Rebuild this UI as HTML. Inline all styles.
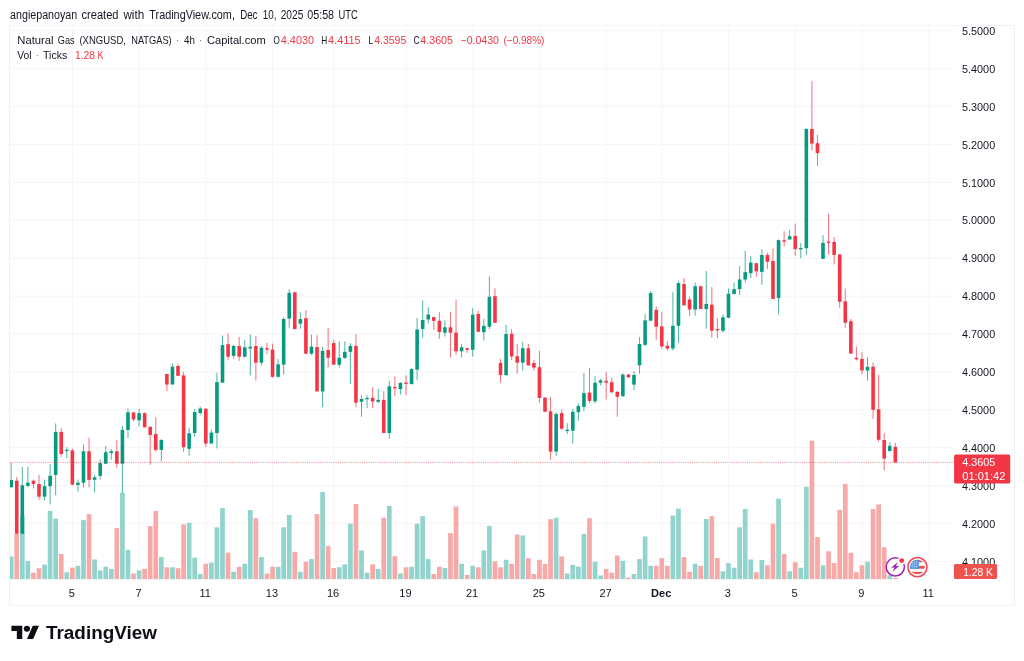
<!DOCTYPE html>
<html lang="en"><head><meta charset="utf-8"><title>Natural Gas (XNGUSD, NATGAS) 4h - TradingView</title>
<style>html,body{margin:0;padding:0;background:#fff;}body{width:1024px;height:661px;overflow:hidden;}svg{display:block;filter:blur(0.35px);}text{font-family:"Liberation Sans", Arial, sans-serif;}</style></head><body>
<svg width="1024" height="661" viewBox="0 0 1024 661">
<rect x="0" y="0" width="1024" height="661" fill="#ffffff"/>
<text x="10.1" y="18.6" font-size="12" fill="#131722" textLength="67.1" lengthAdjust="spacingAndGlyphs">angiepanoyan</text>
<text x="81.5" y="18.6" font-size="12" fill="#131722" textLength="37.0" lengthAdjust="spacingAndGlyphs">created</text>
<text x="123.4" y="18.6" font-size="12" fill="#131722" textLength="20.8" lengthAdjust="spacingAndGlyphs">with</text>
<text x="149.3" y="18.6" font-size="12" fill="#131722" textLength="85.6" lengthAdjust="spacingAndGlyphs">TradingView.com,</text>
<text x="240.2" y="18.6" font-size="12" fill="#131722" textLength="17.3" lengthAdjust="spacingAndGlyphs">Dec</text>
<text x="262.7" y="18.6" font-size="12" fill="#131722" textLength="13.7" lengthAdjust="spacingAndGlyphs">10,</text>
<text x="280.7" y="18.6" font-size="12" fill="#131722" textLength="22.6" lengthAdjust="spacingAndGlyphs">2025</text>
<text x="307.2" y="18.6" font-size="12" fill="#131722" textLength="26.9" lengthAdjust="spacingAndGlyphs">05:58</text>
<text x="338.5" y="18.6" font-size="12" fill="#131722" textLength="19.3" lengthAdjust="spacingAndGlyphs">UTC</text>
<rect x="9.5" y="25.3" width="1005" height="580" fill="#ffffff" stroke="#f1f1f4" stroke-width="1"/>
<g stroke="#f5f5f8" stroke-width="1" fill="none"><line x1="72.6" y1="26" x2="72.6" y2="579" /><line x1="139.3" y1="26" x2="139.3" y2="579" /><line x1="206.0" y1="26" x2="206.0" y2="579" /><line x1="272.7" y1="26" x2="272.7" y2="579" /><line x1="333.9" y1="26" x2="333.9" y2="579" /><line x1="406.2" y1="26" x2="406.2" y2="579" /><line x1="472.9" y1="26" x2="472.9" y2="579" /><line x1="539.6" y1="26" x2="539.6" y2="579" /><line x1="606.4" y1="26" x2="606.4" y2="579" /><line x1="662.0" y1="26" x2="662.0" y2="579" /><line x1="728.7" y1="26" x2="728.7" y2="579" /><line x1="795.4" y1="26" x2="795.4" y2="579" /><line x1="862.2" y1="26" x2="862.2" y2="579" /><line x1="928.9" y1="26" x2="928.9" y2="579" /><line x1="10" y1="30.8" x2="953.5" y2="30.8" /><line x1="10" y1="68.6" x2="953.5" y2="68.6" /><line x1="10" y1="106.6" x2="953.5" y2="106.6" /><line x1="10" y1="144.4" x2="953.5" y2="144.4" /><line x1="10" y1="182.4" x2="953.5" y2="182.4" /><line x1="10" y1="220.2" x2="953.5" y2="220.2" /><line x1="10" y1="258.1" x2="953.5" y2="258.1" /><line x1="10" y1="296.1" x2="953.5" y2="296.1" /><line x1="10" y1="333.9" x2="953.5" y2="333.9" /><line x1="10" y1="371.9" x2="953.5" y2="371.9" /><line x1="10" y1="409.8" x2="953.5" y2="409.8" /><line x1="10" y1="447.6" x2="953.5" y2="447.6" /><line x1="10" y1="485.6" x2="953.5" y2="485.6" /><line x1="10" y1="523.4" x2="953.5" y2="523.4" /><line x1="10" y1="561.4" x2="953.5" y2="561.4" /></g>
<g><rect x="10.00" y="556.4" width="3.55" height="22.8" fill="#93d3cd"/><rect x="14.41" y="533.7" width="4.70" height="45.5" fill="#f7a9a8"/><rect x="19.97" y="515.9" width="4.70" height="63.3" fill="#93d3cd"/><rect x="25.53" y="560.9" width="4.70" height="18.3" fill="#93d3cd"/><rect x="31.09" y="572.7" width="4.70" height="6.5" fill="#f7a9a8"/><rect x="36.65" y="568.2" width="4.70" height="11.0" fill="#f7a9a8"/><rect x="42.21" y="564.6" width="4.70" height="14.6" fill="#93d3cd"/><rect x="47.77" y="511.0" width="4.70" height="68.2" fill="#93d3cd"/><rect x="53.33" y="518.6" width="4.70" height="60.6" fill="#93d3cd"/><rect x="58.89" y="554.0" width="4.70" height="25.2" fill="#f7a9a8"/><rect x="64.46" y="572.2" width="4.70" height="7.0" fill="#93d3cd"/><rect x="70.02" y="567.7" width="4.70" height="11.5" fill="#f7a9a8"/><rect x="75.58" y="565.8" width="4.70" height="13.4" fill="#93d3cd"/><rect x="81.14" y="520.1" width="4.70" height="59.1" fill="#93d3cd"/><rect x="86.70" y="514.1" width="4.70" height="65.1" fill="#f7a9a8"/><rect x="92.26" y="559.5" width="4.70" height="19.7" fill="#93d3cd"/><rect x="97.82" y="570.4" width="4.70" height="8.8" fill="#93d3cd"/><rect x="103.38" y="566.7" width="4.70" height="12.5" fill="#93d3cd"/><rect x="108.94" y="568.9" width="4.70" height="10.3" fill="#93d3cd"/><rect x="114.50" y="528.1" width="4.70" height="51.1" fill="#f7a9a8"/><rect x="120.06" y="492.8" width="4.70" height="86.4" fill="#93d3cd"/><rect x="125.62" y="549.9" width="4.70" height="29.3" fill="#93d3cd"/><rect x="131.18" y="573.5" width="4.70" height="5.7" fill="#f7a9a8"/><rect x="136.74" y="570.4" width="4.70" height="8.8" fill="#93d3cd"/><rect x="142.30" y="568.9" width="4.70" height="10.3" fill="#f7a9a8"/><rect x="147.86" y="526.1" width="4.70" height="53.1" fill="#f7a9a8"/><rect x="153.42" y="511.0" width="4.70" height="68.2" fill="#f7a9a8"/><rect x="158.98" y="557.1" width="4.70" height="22.1" fill="#93d3cd"/><rect x="164.54" y="567.3" width="4.70" height="11.9" fill="#f7a9a8"/><rect x="170.10" y="567.3" width="4.70" height="11.9" fill="#93d3cd"/><rect x="175.66" y="568.2" width="4.70" height="11.0" fill="#f7a9a8"/><rect x="181.23" y="524.4" width="4.70" height="54.8" fill="#f7a9a8"/><rect x="186.79" y="522.8" width="4.70" height="56.4" fill="#93d3cd"/><rect x="192.35" y="557.7" width="4.70" height="21.5" fill="#93d3cd"/><rect x="197.91" y="574.0" width="4.70" height="5.2" fill="#93d3cd"/><rect x="203.47" y="563.7" width="4.70" height="15.5" fill="#f7a9a8"/><rect x="209.03" y="562.7" width="4.70" height="16.5" fill="#93d3cd"/><rect x="214.59" y="527.3" width="4.70" height="51.9" fill="#93d3cd"/><rect x="220.15" y="508.1" width="4.70" height="71.1" fill="#93d3cd"/><rect x="225.71" y="552.6" width="4.70" height="26.6" fill="#f7a9a8"/><rect x="231.27" y="571.8" width="4.70" height="7.4" fill="#93d3cd"/><rect x="236.83" y="566.7" width="4.70" height="12.5" fill="#f7a9a8"/><rect x="242.39" y="563.7" width="4.70" height="15.5" fill="#93d3cd"/><rect x="247.95" y="510.1" width="4.70" height="69.1" fill="#93d3cd"/><rect x="253.51" y="518.2" width="4.70" height="61.0" fill="#f7a9a8"/><rect x="259.07" y="557.1" width="4.70" height="22.1" fill="#93d3cd"/><rect x="264.63" y="573.5" width="4.70" height="5.7" fill="#f7a9a8"/><rect x="270.19" y="566.7" width="4.70" height="12.5" fill="#f7a9a8"/><rect x="275.75" y="566.7" width="4.70" height="12.5" fill="#93d3cd"/><rect x="281.31" y="527.3" width="4.70" height="51.9" fill="#93d3cd"/><rect x="286.88" y="515.0" width="4.70" height="64.2" fill="#93d3cd"/><rect x="292.44" y="551.8" width="4.70" height="27.4" fill="#f7a9a8"/><rect x="298.00" y="571.8" width="4.70" height="7.4" fill="#93d3cd"/><rect x="303.56" y="561.7" width="4.70" height="17.5" fill="#f7a9a8"/><rect x="309.12" y="559.1" width="4.70" height="20.1" fill="#93d3cd"/><rect x="314.68" y="514.1" width="4.70" height="65.1" fill="#f7a9a8"/><rect x="320.24" y="491.9" width="4.70" height="87.3" fill="#93d3cd"/><rect x="325.80" y="545.9" width="4.70" height="33.3" fill="#f7a9a8"/><rect x="331.36" y="568.0" width="4.70" height="11.2" fill="#f7a9a8"/><rect x="336.92" y="567.3" width="4.70" height="11.9" fill="#93d3cd"/><rect x="342.48" y="564.4" width="4.70" height="14.8" fill="#93d3cd"/><rect x="348.04" y="523.7" width="4.70" height="55.5" fill="#93d3cd"/><rect x="353.60" y="504.1" width="4.70" height="75.1" fill="#f7a9a8"/><rect x="359.16" y="550.4" width="4.70" height="28.8" fill="#93d3cd"/><rect x="364.72" y="572.7" width="4.70" height="6.5" fill="#93d3cd"/><rect x="370.28" y="564.4" width="4.70" height="14.8" fill="#f7a9a8"/><rect x="375.84" y="568.9" width="4.70" height="10.3" fill="#93d3cd"/><rect x="381.40" y="517.7" width="4.70" height="61.5" fill="#f7a9a8"/><rect x="386.96" y="505.9" width="4.70" height="73.3" fill="#93d3cd"/><rect x="392.52" y="556.2" width="4.70" height="23.0" fill="#f7a9a8"/><rect x="398.08" y="573.5" width="4.70" height="5.7" fill="#93d3cd"/><rect x="403.65" y="567.3" width="4.70" height="11.9" fill="#f7a9a8"/><rect x="409.21" y="566.7" width="4.70" height="12.5" fill="#93d3cd"/><rect x="414.77" y="523.7" width="4.70" height="55.5" fill="#93d3cd"/><rect x="420.33" y="516.2" width="4.70" height="63.0" fill="#93d3cd"/><rect x="425.89" y="559.1" width="4.70" height="20.1" fill="#93d3cd"/><rect x="431.45" y="574.0" width="4.70" height="5.2" fill="#f7a9a8"/><rect x="437.01" y="566.7" width="4.70" height="12.5" fill="#f7a9a8"/><rect x="442.57" y="568.0" width="4.70" height="11.2" fill="#93d3cd"/><rect x="448.13" y="533.1" width="4.70" height="46.1" fill="#f7a9a8"/><rect x="453.69" y="506.4" width="4.70" height="72.8" fill="#f7a9a8"/><rect x="459.25" y="563.7" width="4.70" height="15.5" fill="#93d3cd"/><rect x="464.81" y="574.9" width="4.70" height="4.3" fill="#f7a9a8"/><rect x="470.37" y="565.8" width="4.70" height="13.4" fill="#93d3cd"/><rect x="475.93" y="567.3" width="4.70" height="11.9" fill="#f7a9a8"/><rect x="481.49" y="550.4" width="4.70" height="28.8" fill="#93d3cd"/><rect x="487.05" y="525.9" width="4.70" height="53.3" fill="#93d3cd"/><rect x="492.61" y="561.3" width="4.70" height="17.9" fill="#f7a9a8"/><rect x="498.17" y="567.3" width="4.70" height="11.9" fill="#f7a9a8"/><rect x="503.73" y="559.8" width="4.70" height="19.4" fill="#93d3cd"/><rect x="509.29" y="563.7" width="4.70" height="15.5" fill="#f7a9a8"/><rect x="514.86" y="534.6" width="4.70" height="44.6" fill="#f7a9a8"/><rect x="520.42" y="535.5" width="4.70" height="43.7" fill="#93d3cd"/><rect x="525.98" y="558.2" width="4.70" height="21.0" fill="#f7a9a8"/><rect x="531.54" y="574.0" width="4.70" height="5.2" fill="#f7a9a8"/><rect x="537.10" y="559.8" width="4.70" height="19.4" fill="#f7a9a8"/><rect x="542.66" y="564.0" width="4.70" height="15.2" fill="#f7a9a8"/><rect x="548.22" y="519.2" width="4.70" height="60.0" fill="#f7a9a8"/><rect x="553.78" y="517.7" width="4.70" height="61.5" fill="#93d3cd"/><rect x="559.34" y="556.4" width="4.70" height="22.8" fill="#f7a9a8"/><rect x="564.90" y="573.5" width="4.70" height="5.7" fill="#93d3cd"/><rect x="570.46" y="564.9" width="4.70" height="14.3" fill="#93d3cd"/><rect x="576.02" y="566.7" width="4.70" height="12.5" fill="#93d3cd"/><rect x="581.58" y="534.0" width="4.70" height="45.2" fill="#93d3cd"/><rect x="587.14" y="518.2" width="4.70" height="61.0" fill="#f7a9a8"/><rect x="592.70" y="561.7" width="4.70" height="17.5" fill="#93d3cd"/><rect x="598.26" y="575.5" width="4.70" height="3.7" fill="#93d3cd"/><rect x="603.82" y="568.9" width="4.70" height="10.3" fill="#f7a9a8"/><rect x="609.38" y="572.7" width="4.70" height="6.5" fill="#f7a9a8"/><rect x="614.94" y="555.5" width="4.70" height="23.7" fill="#f7a9a8"/><rect x="620.50" y="560.8" width="4.70" height="18.4" fill="#93d3cd"/><rect x="626.07" y="577.6" width="4.70" height="1.6" fill="#f7a9a8"/><rect x="631.63" y="574.0" width="4.70" height="5.2" fill="#93d3cd"/><rect x="637.19" y="559.1" width="4.70" height="20.1" fill="#93d3cd"/><rect x="642.75" y="536.4" width="4.70" height="42.8" fill="#93d3cd"/><rect x="648.31" y="565.8" width="4.70" height="13.4" fill="#93d3cd"/><rect x="653.87" y="565.8" width="4.70" height="13.4" fill="#f7a9a8"/><rect x="659.43" y="558.2" width="4.70" height="21.0" fill="#f7a9a8"/><rect x="664.99" y="565.8" width="4.70" height="13.4" fill="#f7a9a8"/><rect x="670.55" y="515.5" width="4.70" height="63.7" fill="#93d3cd"/><rect x="676.11" y="508.6" width="4.70" height="70.6" fill="#93d3cd"/><rect x="681.67" y="557.1" width="4.70" height="22.1" fill="#f7a9a8"/><rect x="687.23" y="571.8" width="4.70" height="7.4" fill="#f7a9a8"/><rect x="692.79" y="563.7" width="4.70" height="15.5" fill="#93d3cd"/><rect x="698.35" y="565.8" width="4.70" height="13.4" fill="#f7a9a8"/><rect x="703.91" y="519.0" width="4.70" height="60.2" fill="#93d3cd"/><rect x="709.47" y="516.2" width="4.70" height="63.0" fill="#f7a9a8"/><rect x="715.03" y="558.0" width="4.70" height="21.2" fill="#f7a9a8"/><rect x="720.59" y="571.3" width="4.70" height="7.9" fill="#93d3cd"/><rect x="726.15" y="563.1" width="4.70" height="16.1" fill="#93d3cd"/><rect x="731.72" y="567.7" width="4.70" height="11.5" fill="#93d3cd"/><rect x="737.28" y="527.3" width="4.70" height="51.9" fill="#93d3cd"/><rect x="742.84" y="509.0" width="4.70" height="70.2" fill="#93d3cd"/><rect x="748.40" y="559.5" width="4.70" height="19.7" fill="#93d3cd"/><rect x="753.96" y="572.2" width="4.70" height="7.0" fill="#f7a9a8"/><rect x="759.52" y="560.0" width="4.70" height="19.2" fill="#93d3cd"/><rect x="765.08" y="565.3" width="4.70" height="13.9" fill="#f7a9a8"/><rect x="770.64" y="523.7" width="4.70" height="55.5" fill="#f7a9a8"/><rect x="776.20" y="498.6" width="4.70" height="80.6" fill="#93d3cd"/><rect x="781.76" y="554.0" width="4.70" height="25.2" fill="#f7a9a8"/><rect x="787.32" y="571.3" width="4.70" height="7.9" fill="#93d3cd"/><rect x="792.88" y="562.2" width="4.70" height="17.0" fill="#f7a9a8"/><rect x="798.44" y="567.7" width="4.70" height="11.5" fill="#93d3cd"/><rect x="804.00" y="486.8" width="4.70" height="92.4" fill="#93d3cd"/><rect x="809.56" y="440.7" width="4.70" height="138.5" fill="#f7a9a8"/><rect x="815.12" y="537.1" width="4.70" height="42.1" fill="#f7a9a8"/><rect x="820.68" y="565.3" width="4.70" height="13.9" fill="#93d3cd"/><rect x="826.24" y="551.3" width="4.70" height="27.9" fill="#f7a9a8"/><rect x="831.80" y="563.1" width="4.70" height="16.1" fill="#f7a9a8"/><rect x="837.36" y="509.8" width="4.70" height="69.4" fill="#f7a9a8"/><rect x="842.93" y="483.9" width="4.70" height="95.3" fill="#f7a9a8"/><rect x="848.49" y="552.8" width="4.70" height="26.4" fill="#f7a9a8"/><rect x="854.05" y="572.2" width="4.70" height="7.0" fill="#f7a9a8"/><rect x="859.61" y="565.3" width="4.70" height="13.9" fill="#f7a9a8"/><rect x="865.17" y="561.7" width="4.70" height="17.5" fill="#93d3cd"/><rect x="870.73" y="509.0" width="4.70" height="70.2" fill="#f7a9a8"/><rect x="876.29" y="504.4" width="4.70" height="74.8" fill="#f7a9a8"/><rect x="881.85" y="547.3" width="4.70" height="31.9" fill="#f7a9a8"/><rect x="887.41" y="575.2" width="4.70" height="4.0" fill="#93d3cd"/><rect x="892.97" y="577.9" width="4.70" height="1.3" fill="#f7a9a8"/></g>
<g><line x1="11.20" y1="462.8" x2="11.20" y2="487.3" stroke="#089981" stroke-width="1" stroke-opacity="0.72"/><rect x="10.00" y="480.0" width="3.00" height="7.3" fill="#089981"/><line x1="16.76" y1="477.1" x2="16.76" y2="533.7" stroke="#f23645" stroke-width="1" stroke-opacity="0.72"/><rect x="14.96" y="480.7" width="3.60" height="53.0" fill="#f23645"/><line x1="22.32" y1="466.8" x2="22.32" y2="533.7" stroke="#089981" stroke-width="1" stroke-opacity="0.72"/><rect x="20.52" y="485.3" width="3.60" height="48.4" fill="#089981"/><line x1="27.88" y1="466.8" x2="27.88" y2="487.3" stroke="#089981" stroke-width="1" stroke-opacity="0.72"/><rect x="26.08" y="482.6" width="3.60" height="3.2" fill="#089981"/><line x1="33.44" y1="479.5" x2="33.44" y2="488.5" stroke="#f23645" stroke-width="1" stroke-opacity="0.72"/><rect x="31.64" y="480.7" width="3.60" height="3.3" fill="#f23645"/><line x1="39.00" y1="474.9" x2="39.00" y2="500.0" stroke="#f23645" stroke-width="1" stroke-opacity="0.72"/><rect x="37.20" y="484.0" width="3.60" height="12.7" fill="#f23645"/><line x1="44.56" y1="479.5" x2="44.56" y2="500.4" stroke="#089981" stroke-width="1" stroke-opacity="0.72"/><rect x="42.76" y="486.2" width="3.60" height="10.5" fill="#089981"/><line x1="50.12" y1="464.0" x2="50.12" y2="504.4" stroke="#089981" stroke-width="1" stroke-opacity="0.72"/><rect x="48.32" y="475.8" width="3.60" height="10.4" fill="#089981"/><line x1="55.68" y1="423.5" x2="55.68" y2="495.3" stroke="#089981" stroke-width="1" stroke-opacity="0.72"/><rect x="53.88" y="431.9" width="3.60" height="43.0" fill="#089981"/><line x1="61.24" y1="428.2" x2="61.24" y2="456.8" stroke="#f23645" stroke-width="1" stroke-opacity="0.72"/><rect x="59.44" y="431.9" width="3.60" height="22.1" fill="#f23645"/><line x1="66.81" y1="447.3" x2="66.81" y2="458.2" stroke="#089981" stroke-width="1" stroke-opacity="0.72"/><rect x="65.01" y="449.8" width="3.60" height="1.2" fill="#089981"/><line x1="72.37" y1="448.6" x2="72.37" y2="485.5" stroke="#f23645" stroke-width="1" stroke-opacity="0.72"/><rect x="70.57" y="450.4" width="3.60" height="34.2" fill="#f23645"/><line x1="77.93" y1="479.5" x2="77.93" y2="491.6" stroke="#089981" stroke-width="1" stroke-opacity="0.72"/><rect x="76.13" y="482.6" width="3.60" height="2.3" fill="#089981"/><line x1="83.49" y1="444.4" x2="83.49" y2="487.6" stroke="#089981" stroke-width="1" stroke-opacity="0.72"/><rect x="81.69" y="451.3" width="3.60" height="31.4" fill="#089981"/><line x1="89.05" y1="437.7" x2="89.05" y2="487.3" stroke="#f23645" stroke-width="1" stroke-opacity="0.72"/><rect x="87.25" y="451.3" width="3.60" height="28.5" fill="#f23645"/><line x1="94.61" y1="474.9" x2="94.61" y2="492.5" stroke="#089981" stroke-width="1" stroke-opacity="0.72"/><rect x="92.81" y="477.3" width="3.60" height="2.5" fill="#089981"/><line x1="100.17" y1="459.5" x2="100.17" y2="479.5" stroke="#089981" stroke-width="1" stroke-opacity="0.72"/><rect x="98.37" y="463.1" width="3.60" height="12.7" fill="#089981"/><line x1="105.73" y1="445.9" x2="105.73" y2="464.0" stroke="#089981" stroke-width="1" stroke-opacity="0.72"/><rect x="103.93" y="452.2" width="3.60" height="11.5" fill="#089981"/><line x1="111.29" y1="449.0" x2="111.29" y2="459.5" stroke="#089981" stroke-width="1" stroke-opacity="0.72"/><rect x="109.49" y="451.3" width="3.60" height="1.8" fill="#089981"/><line x1="116.85" y1="440.0" x2="116.85" y2="467.7" stroke="#f23645" stroke-width="1" stroke-opacity="0.72"/><rect x="115.05" y="451.3" width="3.60" height="12.4" fill="#f23645"/><line x1="122.41" y1="425.9" x2="122.41" y2="493.1" stroke="#089981" stroke-width="1" stroke-opacity="0.72"/><rect x="120.61" y="429.9" width="3.60" height="33.8" fill="#089981"/><line x1="127.97" y1="408.6" x2="127.97" y2="438.2" stroke="#089981" stroke-width="1" stroke-opacity="0.72"/><rect x="126.17" y="412.3" width="3.60" height="17.6" fill="#089981"/><line x1="133.53" y1="412.0" x2="133.53" y2="421.1" stroke="#f23645" stroke-width="1" stroke-opacity="0.72"/><rect x="131.73" y="412.5" width="3.60" height="7.0" fill="#f23645"/><line x1="139.09" y1="409.0" x2="139.09" y2="426.3" stroke="#089981" stroke-width="1" stroke-opacity="0.72"/><rect x="137.29" y="413.2" width="3.60" height="7.1" fill="#089981"/><line x1="144.65" y1="412.3" x2="144.65" y2="427.7" stroke="#f23645" stroke-width="1" stroke-opacity="0.72"/><rect x="142.85" y="413.2" width="3.60" height="14.0" fill="#f23645"/><line x1="150.21" y1="426.3" x2="150.21" y2="464.9" stroke="#f23645" stroke-width="1" stroke-opacity="0.72"/><rect x="148.41" y="426.8" width="3.60" height="8.2" fill="#f23645"/><line x1="155.77" y1="417.2" x2="155.77" y2="451.7" stroke="#f23645" stroke-width="1" stroke-opacity="0.72"/><rect x="153.97" y="434.1" width="3.60" height="15.8" fill="#f23645"/><line x1="161.33" y1="439.0" x2="161.33" y2="461.3" stroke="#089981" stroke-width="1" stroke-opacity="0.72"/><rect x="159.53" y="440.0" width="3.60" height="9.9" fill="#089981"/><line x1="166.89" y1="373.6" x2="166.89" y2="390.9" stroke="#f23645" stroke-width="1" stroke-opacity="0.72"/><rect x="165.09" y="374.0" width="3.60" height="10.5" fill="#f23645"/><line x1="172.45" y1="363.6" x2="172.45" y2="384.5" stroke="#089981" stroke-width="1" stroke-opacity="0.72"/><rect x="170.65" y="366.7" width="3.60" height="17.8" fill="#089981"/><line x1="178.01" y1="363.6" x2="178.01" y2="375.8" stroke="#f23645" stroke-width="1" stroke-opacity="0.72"/><rect x="176.21" y="366.0" width="3.60" height="9.8" fill="#f23645"/><line x1="183.58" y1="371.8" x2="183.58" y2="451.7" stroke="#f23645" stroke-width="1" stroke-opacity="0.72"/><rect x="181.78" y="375.4" width="3.60" height="71.8" fill="#f23645"/><line x1="189.14" y1="427.6" x2="189.14" y2="455.9" stroke="#089981" stroke-width="1" stroke-opacity="0.72"/><rect x="187.34" y="433.3" width="3.60" height="15.5" fill="#089981"/><line x1="194.70" y1="409.0" x2="194.70" y2="436.8" stroke="#089981" stroke-width="1" stroke-opacity="0.72"/><rect x="192.90" y="412.1" width="3.60" height="20.9" fill="#089981"/><line x1="200.26" y1="406.7" x2="200.26" y2="415.0" stroke="#089981" stroke-width="1" stroke-opacity="0.72"/><rect x="198.46" y="408.5" width="3.60" height="4.5" fill="#089981"/><line x1="205.82" y1="408.5" x2="205.82" y2="447.2" stroke="#f23645" stroke-width="1" stroke-opacity="0.72"/><rect x="204.02" y="408.7" width="3.60" height="34.8" fill="#f23645"/><line x1="211.38" y1="429.5" x2="211.38" y2="443.5" stroke="#089981" stroke-width="1" stroke-opacity="0.72"/><rect x="209.58" y="432.6" width="3.60" height="10.9" fill="#089981"/><line x1="216.94" y1="372.7" x2="216.94" y2="448.4" stroke="#089981" stroke-width="1" stroke-opacity="0.72"/><rect x="215.14" y="382.1" width="3.60" height="50.9" fill="#089981"/><line x1="222.50" y1="335.4" x2="222.50" y2="382.7" stroke="#089981" stroke-width="1" stroke-opacity="0.72"/><rect x="220.70" y="345.1" width="3.60" height="37.6" fill="#089981"/><line x1="228.06" y1="333.3" x2="228.06" y2="360.3" stroke="#f23645" stroke-width="1" stroke-opacity="0.72"/><rect x="226.26" y="344.2" width="3.60" height="12.5" fill="#f23645"/><line x1="233.62" y1="344.9" x2="233.62" y2="358.7" stroke="#089981" stroke-width="1" stroke-opacity="0.72"/><rect x="231.82" y="346.0" width="3.60" height="9.8" fill="#089981"/><line x1="239.18" y1="336.9" x2="239.18" y2="360.9" stroke="#f23645" stroke-width="1" stroke-opacity="0.72"/><rect x="237.38" y="346.0" width="3.60" height="10.7" fill="#f23645"/><line x1="244.74" y1="340.0" x2="244.74" y2="357.6" stroke="#089981" stroke-width="1" stroke-opacity="0.72"/><rect x="242.94" y="347.3" width="3.60" height="9.4" fill="#089981"/><line x1="250.30" y1="334.5" x2="250.30" y2="375.4" stroke="#089981" stroke-width="1" stroke-opacity="0.72"/><rect x="248.50" y="346.7" width="3.60" height="1.8" fill="#089981"/><line x1="255.86" y1="336.0" x2="255.86" y2="380.5" stroke="#f23645" stroke-width="1" stroke-opacity="0.72"/><rect x="254.06" y="346.0" width="3.60" height="16.7" fill="#f23645"/><line x1="261.42" y1="346.0" x2="261.42" y2="365.8" stroke="#089981" stroke-width="1" stroke-opacity="0.72"/><rect x="259.62" y="347.8" width="3.60" height="14.9" fill="#089981"/><line x1="266.98" y1="342.7" x2="266.98" y2="354.0" stroke="#f23645" stroke-width="1" stroke-opacity="0.72"/><rect x="265.18" y="348.2" width="3.60" height="1.4" fill="#f23645"/><line x1="272.54" y1="343.6" x2="272.54" y2="377.6" stroke="#f23645" stroke-width="1" stroke-opacity="0.72"/><rect x="270.74" y="349.6" width="3.60" height="27.2" fill="#f23645"/><line x1="278.10" y1="359.0" x2="278.10" y2="377.6" stroke="#089981" stroke-width="1" stroke-opacity="0.72"/><rect x="276.30" y="364.3" width="3.60" height="12.5" fill="#089981"/><line x1="283.66" y1="317.3" x2="283.66" y2="374.5" stroke="#089981" stroke-width="1" stroke-opacity="0.72"/><rect x="281.86" y="319.0" width="3.60" height="45.6" fill="#089981"/><line x1="289.23" y1="289.2" x2="289.23" y2="327.7" stroke="#089981" stroke-width="1" stroke-opacity="0.72"/><rect x="287.43" y="292.8" width="3.60" height="25.8" fill="#089981"/><line x1="294.79" y1="291.9" x2="294.79" y2="329.1" stroke="#f23645" stroke-width="1" stroke-opacity="0.72"/><rect x="292.99" y="292.3" width="3.60" height="36.8" fill="#f23645"/><line x1="300.35" y1="312.2" x2="300.35" y2="328.6" stroke="#089981" stroke-width="1" stroke-opacity="0.72"/><rect x="298.55" y="319.1" width="3.60" height="4.6" fill="#089981"/><line x1="305.91" y1="310.1" x2="305.91" y2="354.0" stroke="#f23645" stroke-width="1" stroke-opacity="0.72"/><rect x="304.11" y="318.2" width="3.60" height="35.5" fill="#f23645"/><line x1="311.47" y1="334.6" x2="311.47" y2="354.9" stroke="#089981" stroke-width="1" stroke-opacity="0.72"/><rect x="309.67" y="346.6" width="3.60" height="7.1" fill="#089981"/><line x1="317.03" y1="335.3" x2="317.03" y2="391.6" stroke="#f23645" stroke-width="1" stroke-opacity="0.72"/><rect x="315.23" y="347.1" width="3.60" height="44.3" fill="#f23645"/><line x1="322.59" y1="346.8" x2="322.59" y2="407.1" stroke="#089981" stroke-width="1" stroke-opacity="0.72"/><rect x="320.79" y="350.9" width="3.60" height="40.6" fill="#089981"/><line x1="328.15" y1="328.0" x2="328.15" y2="367.6" stroke="#f23645" stroke-width="1" stroke-opacity="0.72"/><rect x="326.35" y="350.0" width="3.60" height="7.7" fill="#f23645"/><line x1="333.71" y1="339.9" x2="333.71" y2="365.0" stroke="#f23645" stroke-width="1" stroke-opacity="0.72"/><rect x="331.91" y="343.1" width="3.60" height="21.5" fill="#f23645"/><line x1="339.27" y1="341.3" x2="339.27" y2="367.6" stroke="#089981" stroke-width="1" stroke-opacity="0.72"/><rect x="337.47" y="357.7" width="3.60" height="7.0" fill="#089981"/><line x1="344.83" y1="341.3" x2="344.83" y2="358.9" stroke="#089981" stroke-width="1" stroke-opacity="0.72"/><rect x="343.03" y="351.8" width="3.60" height="6.1" fill="#089981"/><line x1="350.39" y1="343.1" x2="350.39" y2="384.0" stroke="#089981" stroke-width="1" stroke-opacity="0.72"/><rect x="348.59" y="345.9" width="3.60" height="5.9" fill="#089981"/><line x1="355.95" y1="334.0" x2="355.95" y2="407.2" stroke="#f23645" stroke-width="1" stroke-opacity="0.72"/><rect x="354.15" y="345.9" width="3.60" height="56.8" fill="#f23645"/><line x1="361.51" y1="395.4" x2="361.51" y2="416.7" stroke="#089981" stroke-width="1" stroke-opacity="0.72"/><rect x="359.71" y="399.0" width="3.60" height="2.8" fill="#089981"/><line x1="367.07" y1="395.4" x2="367.07" y2="408.1" stroke="#089981" stroke-width="1" stroke-opacity="0.72"/><rect x="365.27" y="398.0" width="3.60" height="1.2" fill="#089981"/><line x1="372.63" y1="387.2" x2="372.63" y2="408.1" stroke="#f23645" stroke-width="1" stroke-opacity="0.72"/><rect x="370.83" y="397.8" width="3.60" height="3.6" fill="#f23645"/><line x1="378.19" y1="388.7" x2="378.19" y2="403.0" stroke="#089981" stroke-width="1" stroke-opacity="0.72"/><rect x="376.39" y="399.9" width="3.60" height="1.9" fill="#089981"/><line x1="383.75" y1="391.2" x2="383.75" y2="433.0" stroke="#f23645" stroke-width="1" stroke-opacity="0.72"/><rect x="381.95" y="399.9" width="3.60" height="33.1" fill="#f23645"/><line x1="389.31" y1="380.9" x2="389.31" y2="439.0" stroke="#089981" stroke-width="1" stroke-opacity="0.72"/><rect x="387.51" y="386.3" width="3.60" height="46.7" fill="#089981"/><line x1="394.87" y1="376.3" x2="394.87" y2="395.9" stroke="#f23645" stroke-width="1" stroke-opacity="0.72"/><rect x="393.07" y="387.0" width="3.60" height="1.3" fill="#f23645"/><line x1="400.44" y1="382.1" x2="400.44" y2="394.5" stroke="#089981" stroke-width="1" stroke-opacity="0.72"/><rect x="398.63" y="383.0" width="3.60" height="6.0" fill="#089981"/><line x1="406.00" y1="375.4" x2="406.00" y2="395.0" stroke="#f23645" stroke-width="1" stroke-opacity="0.72"/><rect x="404.20" y="382.6" width="3.60" height="1.3" fill="#f23645"/><line x1="411.56" y1="368.2" x2="411.56" y2="384.5" stroke="#089981" stroke-width="1" stroke-opacity="0.72"/><rect x="409.76" y="369.1" width="3.60" height="15.0" fill="#089981"/><line x1="417.12" y1="318.0" x2="417.12" y2="379.8" stroke="#089981" stroke-width="1" stroke-opacity="0.72"/><rect x="415.32" y="329.5" width="3.60" height="40.1" fill="#089981"/><line x1="422.68" y1="300.4" x2="422.68" y2="337.7" stroke="#089981" stroke-width="1" stroke-opacity="0.72"/><rect x="420.88" y="320.0" width="3.60" height="9.0" fill="#089981"/><line x1="428.24" y1="307.2" x2="428.24" y2="323.5" stroke="#089981" stroke-width="1" stroke-opacity="0.72"/><rect x="426.44" y="314.6" width="3.60" height="4.9" fill="#089981"/><line x1="433.80" y1="316.8" x2="433.80" y2="330.0" stroke="#f23645" stroke-width="1" stroke-opacity="0.72"/><rect x="432.00" y="317.1" width="3.60" height="3.7" fill="#f23645"/><line x1="439.36" y1="312.2" x2="439.36" y2="338.9" stroke="#f23645" stroke-width="1" stroke-opacity="0.72"/><rect x="437.56" y="320.8" width="3.60" height="11.2" fill="#f23645"/><line x1="444.92" y1="320.4" x2="444.92" y2="336.6" stroke="#089981" stroke-width="1" stroke-opacity="0.72"/><rect x="443.12" y="327.3" width="3.60" height="5.4" fill="#089981"/><line x1="450.48" y1="312.2" x2="450.48" y2="357.6" stroke="#f23645" stroke-width="1" stroke-opacity="0.72"/><rect x="448.68" y="327.3" width="3.60" height="5.4" fill="#f23645"/><line x1="456.04" y1="299.5" x2="456.04" y2="354.6" stroke="#f23645" stroke-width="1" stroke-opacity="0.72"/><rect x="454.24" y="332.6" width="3.60" height="18.7" fill="#f23645"/><line x1="461.60" y1="344.0" x2="461.60" y2="357.6" stroke="#089981" stroke-width="1" stroke-opacity="0.72"/><rect x="459.80" y="347.3" width="3.60" height="4.0" fill="#089981"/><line x1="467.16" y1="347.5" x2="467.16" y2="352.7" stroke="#f23645" stroke-width="1" stroke-opacity="0.72"/><rect x="465.36" y="348.2" width="3.60" height="1.6" fill="#f23645"/><line x1="472.72" y1="308.1" x2="472.72" y2="356.7" stroke="#089981" stroke-width="1" stroke-opacity="0.72"/><rect x="470.92" y="314.6" width="3.60" height="35.2" fill="#089981"/><line x1="478.28" y1="310.8" x2="478.28" y2="332.2" stroke="#f23645" stroke-width="1" stroke-opacity="0.72"/><rect x="476.48" y="314.0" width="3.60" height="17.7" fill="#f23645"/><line x1="483.84" y1="319.0" x2="483.84" y2="340.4" stroke="#089981" stroke-width="1" stroke-opacity="0.72"/><rect x="482.04" y="325.9" width="3.60" height="6.3" fill="#089981"/><line x1="489.40" y1="276.4" x2="489.40" y2="329.1" stroke="#089981" stroke-width="1" stroke-opacity="0.72"/><rect x="487.60" y="296.8" width="3.60" height="30.0" fill="#089981"/><line x1="494.96" y1="288.3" x2="494.96" y2="322.8" stroke="#f23645" stroke-width="1" stroke-opacity="0.72"/><rect x="493.16" y="296.2" width="3.60" height="26.6" fill="#f23645"/><line x1="500.52" y1="359.0" x2="500.52" y2="382.7" stroke="#f23645" stroke-width="1" stroke-opacity="0.72"/><rect x="498.72" y="362.9" width="3.60" height="12.0" fill="#f23645"/><line x1="506.08" y1="324.9" x2="506.08" y2="375.8" stroke="#089981" stroke-width="1" stroke-opacity="0.72"/><rect x="504.28" y="334.0" width="3.60" height="41.1" fill="#089981"/><line x1="511.64" y1="328.9" x2="511.64" y2="360.2" stroke="#f23645" stroke-width="1" stroke-opacity="0.72"/><rect x="509.84" y="333.7" width="3.60" height="22.8" fill="#f23645"/><line x1="517.21" y1="344.0" x2="517.21" y2="373.6" stroke="#f23645" stroke-width="1" stroke-opacity="0.72"/><rect x="515.41" y="356.2" width="3.60" height="6.5" fill="#f23645"/><line x1="522.77" y1="341.8" x2="522.77" y2="370.6" stroke="#089981" stroke-width="1" stroke-opacity="0.72"/><rect x="520.97" y="348.2" width="3.60" height="14.5" fill="#089981"/><line x1="528.33" y1="344.0" x2="528.33" y2="365.8" stroke="#f23645" stroke-width="1" stroke-opacity="0.72"/><rect x="526.53" y="348.2" width="3.60" height="17.2" fill="#f23645"/><line x1="533.89" y1="359.7" x2="533.89" y2="370.6" stroke="#f23645" stroke-width="1" stroke-opacity="0.72"/><rect x="532.09" y="363.0" width="3.60" height="4.6" fill="#f23645"/><line x1="539.45" y1="351.0" x2="539.45" y2="402.6" stroke="#f23645" stroke-width="1" stroke-opacity="0.72"/><rect x="537.65" y="367.2" width="3.60" height="30.8" fill="#f23645"/><line x1="545.01" y1="397.3" x2="545.01" y2="412.2" stroke="#f23645" stroke-width="1" stroke-opacity="0.72"/><rect x="543.21" y="397.7" width="3.60" height="14.0" fill="#f23645"/><line x1="550.57" y1="397.1" x2="550.57" y2="459.8" stroke="#f23645" stroke-width="1" stroke-opacity="0.72"/><rect x="548.77" y="411.3" width="3.60" height="40.3" fill="#f23645"/><line x1="556.13" y1="412.2" x2="556.13" y2="455.8" stroke="#089981" stroke-width="1" stroke-opacity="0.72"/><rect x="554.33" y="414.0" width="3.60" height="37.6" fill="#089981"/><line x1="561.69" y1="409.5" x2="561.69" y2="430.0" stroke="#f23645" stroke-width="1" stroke-opacity="0.72"/><rect x="559.89" y="413.1" width="3.60" height="15.5" fill="#f23645"/><line x1="567.25" y1="423.1" x2="567.25" y2="434.0" stroke="#089981" stroke-width="1" stroke-opacity="0.72"/><rect x="565.45" y="429.8" width="3.60" height="1.2" fill="#089981"/><line x1="572.81" y1="408.9" x2="572.81" y2="443.6" stroke="#089981" stroke-width="1" stroke-opacity="0.72"/><rect x="571.01" y="411.8" width="3.60" height="18.9" fill="#089981"/><line x1="578.37" y1="403.5" x2="578.37" y2="420.9" stroke="#089981" stroke-width="1" stroke-opacity="0.72"/><rect x="576.57" y="405.9" width="3.60" height="6.3" fill="#089981"/><line x1="583.93" y1="373.2" x2="583.93" y2="411.3" stroke="#089981" stroke-width="1" stroke-opacity="0.72"/><rect x="582.13" y="393.1" width="3.60" height="13.7" fill="#089981"/><line x1="589.49" y1="368.1" x2="589.49" y2="403.1" stroke="#f23645" stroke-width="1" stroke-opacity="0.72"/><rect x="587.69" y="392.6" width="3.60" height="8.3" fill="#f23645"/><line x1="595.05" y1="376.2" x2="595.05" y2="403.5" stroke="#089981" stroke-width="1" stroke-opacity="0.72"/><rect x="593.25" y="382.8" width="3.60" height="18.5" fill="#089981"/><line x1="600.61" y1="379.0" x2="600.61" y2="385.3" stroke="#089981" stroke-width="1" stroke-opacity="0.72"/><rect x="598.81" y="380.4" width="3.60" height="2.2" fill="#089981"/><line x1="606.17" y1="371.9" x2="606.17" y2="399.5" stroke="#f23645" stroke-width="1" stroke-opacity="0.72"/><rect x="604.37" y="380.8" width="3.60" height="1.8" fill="#f23645"/><line x1="611.73" y1="377.7" x2="611.73" y2="393.1" stroke="#f23645" stroke-width="1" stroke-opacity="0.72"/><rect x="609.93" y="382.2" width="3.60" height="10.0" fill="#f23645"/><line x1="617.29" y1="391.0" x2="617.29" y2="416.8" stroke="#f23645" stroke-width="1" stroke-opacity="0.72"/><rect x="615.49" y="391.9" width="3.60" height="4.9" fill="#f23645"/><line x1="622.86" y1="373.2" x2="622.86" y2="396.8" stroke="#089981" stroke-width="1" stroke-opacity="0.72"/><rect x="621.06" y="374.6" width="3.60" height="21.6" fill="#089981"/><line x1="628.42" y1="374.0" x2="628.42" y2="377.7" stroke="#f23645" stroke-width="1" stroke-opacity="0.72"/><rect x="626.62" y="374.6" width="3.60" height="2.7" fill="#f23645"/><line x1="633.98" y1="371.0" x2="633.98" y2="390.0" stroke="#089981" stroke-width="1" stroke-opacity="0.72"/><rect x="632.18" y="375.0" width="3.60" height="9.6" fill="#089981"/><line x1="639.54" y1="337.1" x2="639.54" y2="373.7" stroke="#089981" stroke-width="1" stroke-opacity="0.72"/><rect x="637.74" y="344.0" width="3.60" height="21.3" fill="#089981"/><line x1="645.10" y1="314.0" x2="645.10" y2="345.8" stroke="#089981" stroke-width="1" stroke-opacity="0.72"/><rect x="643.30" y="320.4" width="3.60" height="24.5" fill="#089981"/><line x1="650.66" y1="291.0" x2="650.66" y2="320.7" stroke="#089981" stroke-width="1" stroke-opacity="0.72"/><rect x="648.86" y="293.1" width="3.60" height="27.6" fill="#089981"/><line x1="656.22" y1="306.4" x2="656.22" y2="339.8" stroke="#f23645" stroke-width="1" stroke-opacity="0.72"/><rect x="654.42" y="309.8" width="3.60" height="16.9" fill="#f23645"/><line x1="661.78" y1="312.2" x2="661.78" y2="348.5" stroke="#f23645" stroke-width="1" stroke-opacity="0.72"/><rect x="659.98" y="326.4" width="3.60" height="20.0" fill="#f23645"/><line x1="667.34" y1="341.3" x2="667.34" y2="350.6" stroke="#f23645" stroke-width="1" stroke-opacity="0.72"/><rect x="665.54" y="345.8" width="3.60" height="2.7" fill="#f23645"/><line x1="672.90" y1="292.2" x2="672.90" y2="350.6" stroke="#089981" stroke-width="1" stroke-opacity="0.72"/><rect x="671.10" y="325.8" width="3.60" height="22.7" fill="#089981"/><line x1="678.46" y1="281.3" x2="678.46" y2="342.7" stroke="#089981" stroke-width="1" stroke-opacity="0.72"/><rect x="676.66" y="283.1" width="3.60" height="42.7" fill="#089981"/><line x1="684.02" y1="278.1" x2="684.02" y2="305.8" stroke="#f23645" stroke-width="1" stroke-opacity="0.72"/><rect x="682.22" y="284.0" width="3.60" height="21.3" fill="#f23645"/><line x1="689.58" y1="296.8" x2="689.58" y2="315.8" stroke="#f23645" stroke-width="1" stroke-opacity="0.72"/><rect x="687.78" y="299.5" width="3.60" height="10.0" fill="#f23645"/><line x1="695.14" y1="282.6" x2="695.14" y2="315.8" stroke="#089981" stroke-width="1" stroke-opacity="0.72"/><rect x="693.34" y="286.2" width="3.60" height="23.3" fill="#089981"/><line x1="700.70" y1="285.9" x2="700.70" y2="308.9" stroke="#f23645" stroke-width="1" stroke-opacity="0.72"/><rect x="698.90" y="286.2" width="3.60" height="22.7" fill="#f23645"/><line x1="706.26" y1="271.0" x2="706.26" y2="328.5" stroke="#089981" stroke-width="1" stroke-opacity="0.72"/><rect x="704.46" y="304.0" width="3.60" height="5.1" fill="#089981"/><line x1="711.82" y1="287.1" x2="711.82" y2="337.6" stroke="#f23645" stroke-width="1" stroke-opacity="0.72"/><rect x="710.02" y="304.6" width="3.60" height="26.1" fill="#f23645"/><line x1="717.38" y1="318.2" x2="717.38" y2="338.2" stroke="#f23645" stroke-width="1" stroke-opacity="0.72"/><rect x="715.58" y="329.0" width="3.60" height="1.3" fill="#f23645"/><line x1="722.94" y1="314.6" x2="722.94" y2="332.5" stroke="#089981" stroke-width="1" stroke-opacity="0.72"/><rect x="721.14" y="317.3" width="3.60" height="13.4" fill="#089981"/><line x1="728.50" y1="288.6" x2="728.50" y2="318.2" stroke="#089981" stroke-width="1" stroke-opacity="0.72"/><rect x="726.70" y="293.7" width="3.60" height="24.0" fill="#089981"/><line x1="734.07" y1="282.6" x2="734.07" y2="294.6" stroke="#089981" stroke-width="1" stroke-opacity="0.72"/><rect x="732.27" y="289.1" width="3.60" height="4.9" fill="#089981"/><line x1="739.63" y1="266.2" x2="739.63" y2="294.9" stroke="#089981" stroke-width="1" stroke-opacity="0.72"/><rect x="737.83" y="279.5" width="3.60" height="9.6" fill="#089981"/><line x1="745.19" y1="250.8" x2="745.19" y2="282.6" stroke="#089981" stroke-width="1" stroke-opacity="0.72"/><rect x="743.39" y="272.2" width="3.60" height="7.3" fill="#089981"/><line x1="750.75" y1="255.9" x2="750.75" y2="278.1" stroke="#089981" stroke-width="1" stroke-opacity="0.72"/><rect x="748.95" y="262.6" width="3.60" height="10.5" fill="#089981"/><line x1="756.31" y1="263.0" x2="756.31" y2="276.8" stroke="#f23645" stroke-width="1" stroke-opacity="0.72"/><rect x="754.51" y="263.2" width="3.60" height="8.1" fill="#f23645"/><line x1="761.87" y1="249.0" x2="761.87" y2="284.8" stroke="#089981" stroke-width="1" stroke-opacity="0.72"/><rect x="760.07" y="255.0" width="3.60" height="16.9" fill="#089981"/><line x1="767.43" y1="252.8" x2="767.43" y2="269.0" stroke="#f23645" stroke-width="1" stroke-opacity="0.72"/><rect x="765.63" y="255.0" width="3.60" height="6.8" fill="#f23645"/><line x1="772.99" y1="248.6" x2="772.99" y2="298.9" stroke="#f23645" stroke-width="1" stroke-opacity="0.72"/><rect x="771.19" y="261.0" width="3.60" height="37.9" fill="#f23645"/><line x1="778.55" y1="239.5" x2="778.55" y2="314.4" stroke="#089981" stroke-width="1" stroke-opacity="0.72"/><rect x="776.75" y="240.1" width="3.60" height="57.9" fill="#089981"/><line x1="784.11" y1="231.3" x2="784.11" y2="246.4" stroke="#f23645" stroke-width="1" stroke-opacity="0.72"/><rect x="782.31" y="240.3" width="3.60" height="1.4" fill="#f23645"/><line x1="789.67" y1="229.9" x2="789.67" y2="239.5" stroke="#089981" stroke-width="1" stroke-opacity="0.72"/><rect x="787.87" y="236.2" width="3.60" height="3.3" fill="#089981"/><line x1="795.23" y1="223.7" x2="795.23" y2="255.8" stroke="#f23645" stroke-width="1" stroke-opacity="0.72"/><rect x="793.43" y="235.9" width="3.60" height="13.2" fill="#f23645"/><line x1="800.79" y1="243.1" x2="800.79" y2="258.2" stroke="#089981" stroke-width="1" stroke-opacity="0.72"/><rect x="798.99" y="248.0" width="3.60" height="1.3" fill="#089981"/><line x1="806.35" y1="128.1" x2="806.35" y2="254.6" stroke="#089981" stroke-width="1" stroke-opacity="0.72"/><rect x="804.55" y="129.0" width="3.60" height="119.2" fill="#089981"/><line x1="811.91" y1="80.9" x2="811.91" y2="150.5" stroke="#f23645" stroke-width="1" stroke-opacity="0.72"/><rect x="810.11" y="129.0" width="3.60" height="14.6" fill="#f23645"/><line x1="817.47" y1="134.9" x2="817.47" y2="165.9" stroke="#f23645" stroke-width="1" stroke-opacity="0.72"/><rect x="815.67" y="143.2" width="3.60" height="10.0" fill="#f23645"/><line x1="823.03" y1="235.0" x2="823.03" y2="258.9" stroke="#089981" stroke-width="1" stroke-opacity="0.72"/><rect x="821.23" y="242.8" width="3.60" height="16.1" fill="#089981"/><line x1="828.59" y1="213.5" x2="828.59" y2="254.6" stroke="#f23645" stroke-width="1" stroke-opacity="0.72"/><rect x="826.79" y="241.6" width="3.60" height="1.3" fill="#f23645"/><line x1="834.15" y1="237.1" x2="834.15" y2="264.4" stroke="#f23645" stroke-width="1" stroke-opacity="0.72"/><rect x="832.35" y="241.9" width="3.60" height="13.0" fill="#f23645"/><line x1="839.71" y1="254.0" x2="839.71" y2="307.8" stroke="#f23645" stroke-width="1" stroke-opacity="0.72"/><rect x="837.91" y="254.4" width="3.60" height="47.4" fill="#f23645"/><line x1="845.28" y1="288.5" x2="845.28" y2="327.8" stroke="#f23645" stroke-width="1" stroke-opacity="0.72"/><rect x="843.48" y="301.3" width="3.60" height="21.4" fill="#f23645"/><line x1="850.84" y1="318.7" x2="850.84" y2="353.6" stroke="#f23645" stroke-width="1" stroke-opacity="0.72"/><rect x="849.04" y="321.2" width="3.60" height="32.4" fill="#f23645"/><line x1="856.40" y1="346.7" x2="856.40" y2="360.5" stroke="#f23645" stroke-width="1" stroke-opacity="0.72"/><rect x="854.60" y="357.8" width="3.60" height="1.4" fill="#f23645"/><line x1="861.96" y1="352.3" x2="861.96" y2="374.5" stroke="#f23645" stroke-width="1" stroke-opacity="0.72"/><rect x="860.16" y="359.0" width="3.60" height="11.5" fill="#f23645"/><line x1="867.52" y1="357.2" x2="867.52" y2="380.8" stroke="#089981" stroke-width="1" stroke-opacity="0.72"/><rect x="865.72" y="366.8" width="3.60" height="3.7" fill="#089981"/><line x1="873.08" y1="362.3" x2="873.08" y2="418.8" stroke="#f23645" stroke-width="1" stroke-opacity="0.72"/><rect x="871.28" y="366.7" width="3.60" height="43.1" fill="#f23645"/><line x1="878.64" y1="374.8" x2="878.64" y2="441.6" stroke="#f23645" stroke-width="1" stroke-opacity="0.72"/><rect x="876.84" y="409.3" width="3.60" height="30.5" fill="#f23645"/><line x1="884.20" y1="433.1" x2="884.20" y2="470.3" stroke="#f23645" stroke-width="1" stroke-opacity="0.72"/><rect x="882.40" y="440.0" width="3.60" height="18.6" fill="#f23645"/><line x1="889.76" y1="442.2" x2="889.76" y2="451.6" stroke="#089981" stroke-width="1" stroke-opacity="0.72"/><rect x="887.96" y="445.8" width="3.60" height="5.2" fill="#089981"/><line x1="895.32" y1="442.8" x2="895.32" y2="462.4" stroke="#f23645" stroke-width="1" stroke-opacity="0.72"/><rect x="893.52" y="446.8" width="3.60" height="15.6" fill="#f23645"/></g>
<line x1="10" y1="462.4" x2="954" y2="462.4" stroke="#f23645" stroke-width="1" stroke-dasharray="1 1.2" stroke-opacity="0.62"/>
<text x="17.3" y="43.7" font-size="11" fill="#131722" textLength="36.3" lengthAdjust="spacingAndGlyphs">Natural</text>
<text x="57.8" y="43.7" font-size="11" fill="#131722" textLength="16.7" lengthAdjust="spacingAndGlyphs">Gas</text>
<text x="79.4" y="43.7" font-size="11" fill="#131722" textLength="46.5" lengthAdjust="spacingAndGlyphs">(XNGUSD,</text>
<text x="131.2" y="43.7" font-size="11" fill="#131722" textLength="40.5" lengthAdjust="spacingAndGlyphs">NATGAS)</text>
<text x="176.2" y="43.7" font-size="11" fill="#131722" textLength="2.0" lengthAdjust="spacingAndGlyphs">·</text>
<text x="184.0" y="43.7" font-size="11" fill="#131722" textLength="10.9" lengthAdjust="spacingAndGlyphs">4h</text>
<text x="199.8" y="43.7" font-size="11" fill="#131722" textLength="2.0" lengthAdjust="spacingAndGlyphs">·</text>
<text x="206.9" y="43.7" font-size="11" fill="#131722" textLength="58.8" lengthAdjust="spacingAndGlyphs">Capital.com</text>
<text x="273.6" y="43.7" font-size="11" fill="#131722" textLength="6.3" lengthAdjust="spacingAndGlyphs">O</text>
<text x="280.8" y="43.7" font-size="11" fill="#f23645" textLength="33.3" lengthAdjust="spacingAndGlyphs">4.4030</text>
<text x="321.3" y="43.7" font-size="11" fill="#131722" textLength="6.0" lengthAdjust="spacingAndGlyphs">H</text>
<text x="328.0" y="43.7" font-size="11" fill="#f23645" textLength="32.7" lengthAdjust="spacingAndGlyphs">4.4115</text>
<text x="368.2" y="43.7" font-size="11" fill="#131722" textLength="5.0" lengthAdjust="spacingAndGlyphs">L</text>
<text x="374.2" y="43.7" font-size="11" fill="#f23645" textLength="32.1" lengthAdjust="spacingAndGlyphs">4.3595</text>
<text x="413.6" y="43.7" font-size="11" fill="#131722" textLength="6.0" lengthAdjust="spacingAndGlyphs">C</text>
<text x="420.3" y="43.7" font-size="11" fill="#f23645" textLength="32.7" lengthAdjust="spacingAndGlyphs">4.3605</text>
<text x="460.5" y="43.7" font-size="11" fill="#f23645" textLength="38.5" lengthAdjust="spacingAndGlyphs">−0.0430</text>
<text x="503.5" y="43.7" font-size="11" fill="#f23645" textLength="40.9" lengthAdjust="spacingAndGlyphs">(−0.98%)</text>
<text x="17.3" y="59.1" font-size="11" fill="#131722" textLength="14.2" lengthAdjust="spacingAndGlyphs">Vol</text>
<text x="36.2" y="59.1" font-size="11" fill="#131722" textLength="2.0" lengthAdjust="spacingAndGlyphs">·</text>
<text x="43.0" y="59.1" font-size="11" fill="#131722" textLength="24.2" lengthAdjust="spacingAndGlyphs">Ticks</text>
<text x="74.9" y="59.1" font-size="11" fill="#f23645" textLength="20.1" lengthAdjust="spacingAndGlyphs">1.28</text>
<text x="97.6" y="59.1" font-size="11" fill="#f23645" textLength="6.1" lengthAdjust="spacingAndGlyphs">K</text>
<text x="962.0" y="34.9" font-size="11" fill="#131722" textLength="33.2" lengthAdjust="spacingAndGlyphs">5.5000</text>
<text x="962.0" y="72.7" font-size="11" fill="#131722" textLength="33.2" lengthAdjust="spacingAndGlyphs">5.4000</text>
<text x="962.0" y="110.7" font-size="11" fill="#131722" textLength="33.2" lengthAdjust="spacingAndGlyphs">5.3000</text>
<text x="962.0" y="148.5" font-size="11" fill="#131722" textLength="33.2" lengthAdjust="spacingAndGlyphs">5.2000</text>
<text x="962.0" y="186.5" font-size="11" fill="#131722" textLength="33.2" lengthAdjust="spacingAndGlyphs">5.1000</text>
<text x="962.0" y="224.3" font-size="11" fill="#131722" textLength="33.2" lengthAdjust="spacingAndGlyphs">5.0000</text>
<text x="962.0" y="262.2" font-size="11" fill="#131722" textLength="33.2" lengthAdjust="spacingAndGlyphs">4.9000</text>
<text x="962.0" y="300.2" font-size="11" fill="#131722" textLength="33.2" lengthAdjust="spacingAndGlyphs">4.8000</text>
<text x="962.0" y="338.0" font-size="11" fill="#131722" textLength="33.2" lengthAdjust="spacingAndGlyphs">4.7000</text>
<text x="962.0" y="376.0" font-size="11" fill="#131722" textLength="33.2" lengthAdjust="spacingAndGlyphs">4.6000</text>
<text x="962.0" y="413.9" font-size="11" fill="#131722" textLength="33.2" lengthAdjust="spacingAndGlyphs">4.5000</text>
<text x="962.0" y="451.7" font-size="11" fill="#131722" textLength="33.2" lengthAdjust="spacingAndGlyphs">4.4000</text>
<text x="962.0" y="489.7" font-size="11" fill="#131722" textLength="33.2" lengthAdjust="spacingAndGlyphs">4.3000</text>
<text x="962.0" y="527.5" font-size="11" fill="#131722" textLength="33.2" lengthAdjust="spacingAndGlyphs">4.2000</text>
<text x="962.0" y="565.5" font-size="11" fill="#131722" textLength="33.2" lengthAdjust="spacingAndGlyphs">4.1000</text>
<text x="71.8" y="596.6" font-size="11" fill="#131722" text-anchor="middle">5</text>
<text x="138.5" y="596.6" font-size="11" fill="#131722" text-anchor="middle">7</text>
<text x="205.2" y="596.6" font-size="11" fill="#131722" text-anchor="middle">11</text>
<text x="271.9" y="596.6" font-size="11" fill="#131722" text-anchor="middle">13</text>
<text x="333.1" y="596.6" font-size="11" fill="#131722" text-anchor="middle">16</text>
<text x="405.4" y="596.6" font-size="11" fill="#131722" text-anchor="middle">19</text>
<text x="472.1" y="596.6" font-size="11" fill="#131722" text-anchor="middle">21</text>
<text x="538.8" y="596.6" font-size="11" fill="#131722" text-anchor="middle">25</text>
<text x="605.6" y="596.6" font-size="11" fill="#131722" text-anchor="middle">27</text>
<text x="661.2" y="596.6" font-size="11" fill="#131722" text-anchor="middle" font-weight="bold">Dec</text>
<text x="727.9" y="596.6" font-size="11" fill="#131722" text-anchor="middle">3</text>
<text x="794.6" y="596.6" font-size="11" fill="#131722" text-anchor="middle">5</text>
<text x="861.4" y="596.6" font-size="11" fill="#131722" text-anchor="middle">9</text>
<text x="928.1" y="596.6" font-size="11" fill="#131722" text-anchor="middle">11</text>
<rect x="954.1" y="454.5" width="56.1" height="28.9" rx="1.5" fill="#f23645"/>
<text x="962.3" y="466.4" font-size="11" fill="#ffffff" textLength="33.1" lengthAdjust="spacingAndGlyphs">4.3605</text>
<text x="962.3" y="479.8" font-size="11" fill="#ffffff" textLength="43.1" lengthAdjust="spacingAndGlyphs">01:01:42</text>
<rect x="953.9" y="564.1" width="43.2" height="15" rx="1.5" fill="#ef5350"/>
<text x="963.2" y="575.7" font-size="11" fill="#ffffff" textLength="29.6" lengthAdjust="spacingAndGlyphs">1.28 K</text>
<g><circle cx="895.3" cy="566.95" r="9.1" fill="#ffffff" stroke="#9c27b0" stroke-width="1.5"/><path d="M897.9 562.1 L891.1 567.7 L894.7 567.4 L892.3 571.9 L899.5 565.8 L895.9 566.2 Z" fill="#9c27b0"/><circle cx="901.7" cy="560.6" r="3.9" fill="#ffffff"/><circle cx="901.7" cy="560.6" r="2.45" fill="#f23645"/></g>
<g><circle cx="917.4" cy="567.1" r="9.6" fill="#ffffff" stroke="#f23645" stroke-opacity="0.92" stroke-width="1.6"/><clipPath id="fc"><circle cx="917.4" cy="567.1" r="7.4"/></clipPath><g clip-path="url(#fc)"><rect x="909" y="559" width="17" height="17" fill="#ffffff"/><rect x="909" y="559.7" width="17" height="2.6" fill="#ef5350"/><rect x="909" y="565.9" width="17" height="2.8" fill="#ef5350"/><rect x="909" y="571.8" width="17" height="2.4" fill="#ef5350"/><rect x="909" y="559" width="9.9" height="9.9" fill="#3d8fe6"/><g stroke="#ffffff" stroke-opacity="0.45" stroke-width="0.7"><line x1="909" y1="562.2" x2="918.9" y2="562.2"/><line x1="909" y1="564.4" x2="918.9" y2="564.4"/><line x1="909" y1="566.6" x2="918.9" y2="566.6"/><line x1="912.2" y1="559" x2="912.2" y2="568.9"/><line x1="914.3" y1="559" x2="914.3" y2="568.9"/><line x1="916.4" y1="559" x2="916.4" y2="568.9"/></g></g></g>
<g transform="translate(11.4,622.9) scale(0.777,0.733)" fill="#0c0e14"><path d="M14 22H7V11H0V4h14v18zM28 22h-8l7.5-18h8L28 22z"/><circle cx="20" cy="8" r="4"/></g>
<text x="46" y="639" font-size="18" font-weight="bold" fill="#0c0e14" textLength="111" lengthAdjust="spacingAndGlyphs">TradingView</text>
</svg></body></html>
